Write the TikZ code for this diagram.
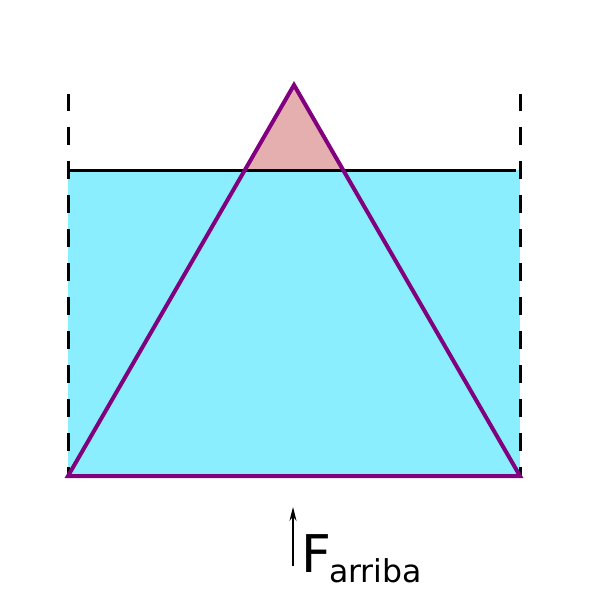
\documentclass[tikz,border=0pt]{standalone}
\usetikzlibrary{arrows.meta}
\usepackage{fontspec}
\newfontfamily\dejavu{DejaVu Sans}
\definecolor{water}{HTML}{8AEEFF}
\definecolor{tip}{HTML}{E6AFAF}
\definecolor{tri}{HTML}{800080}
\begin{document}
\begin{tikzpicture}[x=1pt,y=-1pt,
  wall/.style={line width=3pt,dash pattern=on 18pt off 16pt,dash phase=9pt},
  edge/.style={draw=tri,line width=4pt,line join=miter}]
\useasboundingbox (0,0) rectangle (589,592);
\coordinate (A) at (294,85);
\coordinate (L) at (68,476);
\coordinate (R) at (520,476);
\fill[water] (68,170) rectangle (520,476);
% pink tip above water line: intersections with y=170
\fill[tip] (A) -- (245.1,170) -- (342.9,170) -- cycle;
\draw[wall] (68,476) -- (68,94);
\draw[wall] (520,476) -- (520,94);
\draw[line width=3pt] (70,170) -- (516,170);
\draw[edge] (A) -- (L) -- (R) -- cycle;
\coordinate (a0) at (293,566);
\coordinate (a1) at (293,507);
\draw[-{Stealth[length=14pt,width=7pt]},line width=1.2pt] (a0) -- (a1);
\node[anchor=base west,inner sep=0pt,font=\dejavu\fontsize{52}{52}\selectfont] (F) at (301,572) {F};
\node[anchor=base west,inner sep=0pt,font=\dejavu\fontsize{31.5}{31.5}\selectfont] (sub) at (329,582) {arriba};
\end{tikzpicture}
\end{document}
